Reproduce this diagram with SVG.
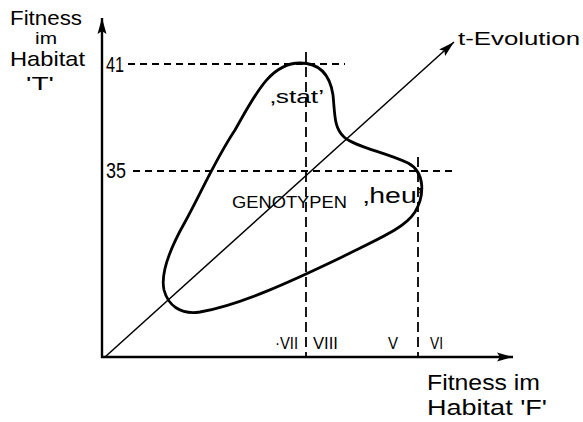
<svg xmlns="http://www.w3.org/2000/svg" width="583" height="422" viewBox="0 0 583 422">
<style>
text { font-family: "Liberation Sans", Arial, sans-serif; fill: #000; }
.axis { stroke: #000; stroke-width: 2.4; fill: none; }
.diag { stroke: #000; stroke-width: 1.5; fill: none; }
.hdash { stroke: #000; stroke-width: 1.8; stroke-dasharray: 7 5; fill: none; }
.vdash { stroke: #000; stroke-width: 1.8; stroke-dasharray: 10 5; fill: none; }
.blob { stroke: #000; stroke-width: 2.8; fill: none; stroke-linejoin: round; }
</style>
<defs>
<marker id="arr" markerUnits="userSpaceOnUse" markerWidth="20" markerHeight="12" refX="16" refY="6" orient="auto" viewBox="0 0 20 12">
<path d="M0,1.5 L16,6 L0,10.5 L3,6 Z" fill="#000"/>
</marker>
</defs>
<rect width="583" height="422" fill="#fff"/>
<g id="connectors">
<line class="axis" x1="102" y1="358" x2="102" y2="18" marker-end="url(#arr)"/>
<line class="axis" x1="101" y1="357" x2="513" y2="357" marker-end="url(#arr)"/>
<line class="diag" x1="105" y1="357" x2="454" y2="42" marker-end="url(#arr)"/>
<line class="hdash" x1="128" y1="64" x2="345" y2="64"/>
<line class="hdash" x1="133" y1="171" x2="456" y2="171"/>
<line class="vdash" x1="306" y1="52" x2="306" y2="357"/>
<line class="vdash" x1="418" y1="157" x2="418" y2="357"/>
</g>
<g id="genotypen-region">
<path class="blob" d="M300 63 C320 63 330 75 333 95 C335 115 334 128 344 137 C355 147 385 152 408 163 C425 172 425 195 415 212 C405 228 380 238 340 258 C290 282 240 305 200 312 C180 315 168 305 164 290 C160 272 172 245 185 222 C200 195 215 160 235 130 C255 95 270 63 300 63 Z"/>
<text x="232" y="208" font-size="17" textLength="115" lengthAdjust="spacingAndGlyphs">GENOTYPEN</text>
</g>
<g id="stat">
<text x="270" y="103" font-size="19" textLength="54" lengthAdjust="spacingAndGlyphs">‚stat’</text>
</g>
<g id="heu">
<text x="363" y="203" font-size="22" textLength="60" lengthAdjust="spacingAndGlyphs">‚heu’</text>
</g>
<g id="y-axis-label">
<text x="10" y="25" font-size="21" textLength="72" lengthAdjust="spacingAndGlyphs">Fitness</text>
<text x="35" y="44" font-size="16" textLength="22" lengthAdjust="spacingAndGlyphs">im</text>
<text x="10" y="66" font-size="21" textLength="75" lengthAdjust="spacingAndGlyphs">Habitat</text>
<text x="26" y="90" font-size="19" textLength="28" lengthAdjust="spacingAndGlyphs">'T'</text>
</g>
<g id="y-ticks">
<text x="106" y="72" font-size="22" textLength="18" lengthAdjust="spacingAndGlyphs">41</text>
<text x="106" y="178" font-size="22" textLength="20" lengthAdjust="spacingAndGlyphs">35</text>
</g>
<g id="x-ticks">
<text x="275" y="349" font-size="16" textLength="23" lengthAdjust="spacingAndGlyphs">·VII</text>
<text x="313" y="349" font-size="16" textLength="25" lengthAdjust="spacingAndGlyphs">VIII</text>
<text x="388" y="349" font-size="16" textLength="10" lengthAdjust="spacingAndGlyphs">V</text>
<text x="430" y="349" font-size="16" textLength="13" lengthAdjust="spacingAndGlyphs">VI</text>
</g>
<g id="t-evolution">
<text x="458" y="45" font-size="18" textLength="122" lengthAdjust="spacingAndGlyphs">t-Evolution</text>
</g>
<g id="x-axis-label">
<text x="427" y="390" font-size="22" textLength="113" lengthAdjust="spacingAndGlyphs">Fitness im</text>
<text x="427" y="415" font-size="22" textLength="120" lengthAdjust="spacingAndGlyphs">Habitat 'F'</text>
</g>
</svg>
